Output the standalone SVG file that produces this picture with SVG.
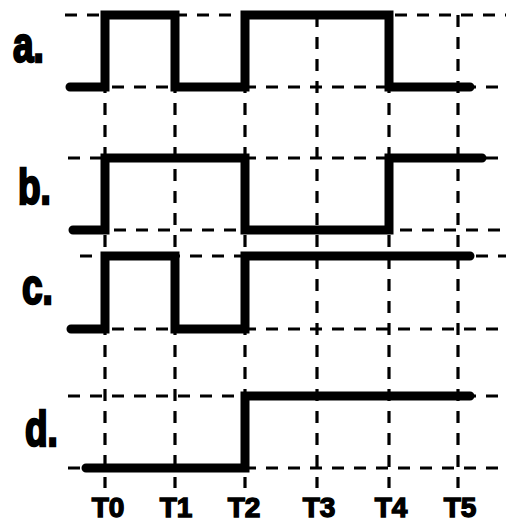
<svg xmlns="http://www.w3.org/2000/svg" width="508" height="524" viewBox="0 0 508 524">
<style>
.grid{stroke:#000;stroke-width:3.2;stroke-dasharray:12 10;fill:none}
.wave{stroke:#000;stroke-width:9;fill:none;stroke-linejoin:miter;stroke-linecap:round}
.lbl{font-family:"Liberation Sans",Arial,sans-serif;font-weight:bold;fill:#000;stroke:#000}
.sig{font-size:50px;stroke-width:2.5}
.tl{font-size:28px;text-anchor:middle;stroke-width:1.4}
</style>
<rect width="508" height="524" fill="#fff"/>
<g id="grid">
<path class="grid" d="M65,15H506M68,87H506M68,158H506M70,230H506M80,256H506M68,329H506M68,396H506M68,468H506"/>
<path class="grid" d="M105,15V488M175,15V488M245,15V488M317,15V488M389,15V488M458,15V488"/>
</g>
<g id="wave-a"><path class="wave" d="M70,87H105V15H175V87H245V15H389V87H470"/><text class="lbl sig" transform="translate(13,62) scale(0.74,1)">a.</text></g>
<g id="wave-b"><path class="wave" d="M73,230H105V158H245V230H389V158H482"/><text class="lbl sig" transform="translate(18,204) scale(0.74,1)">b.</text></g>
<g id="wave-c"><path class="wave" d="M71,329H105V256H175V329H245V256H470"/><text class="lbl sig" transform="translate(22,304) scale(0.74,1)">c.</text></g>
<g id="wave-d"><path class="wave" d="M86,468H245V396H470"/><text class="lbl sig" transform="translate(25,446) scale(0.74,1)">d.</text></g>
<g id="time-labels">
<text class="lbl tl" x="108" y="517">T0</text>
<text class="lbl tl" x="176" y="517">T1</text>
<text class="lbl tl" x="244" y="517">T2</text>
<text class="lbl tl" x="319" y="517">T3</text>
<text class="lbl tl" x="391" y="517">T4</text>
<text class="lbl tl" x="460" y="517">T5</text>
</g>
</svg>
